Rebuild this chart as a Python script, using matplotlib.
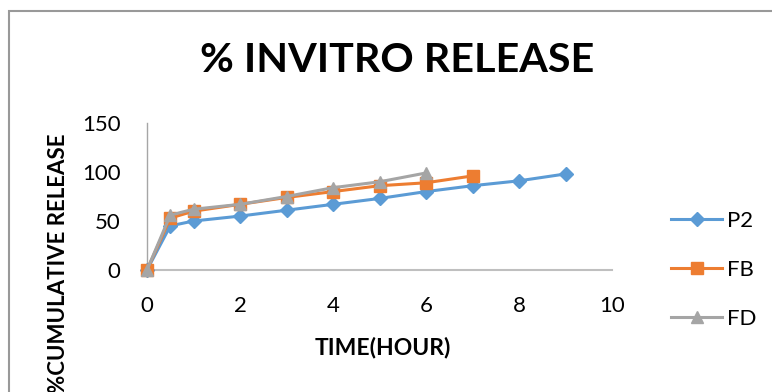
import matplotlib
matplotlib.use("Agg")
import matplotlib.pyplot as plt
from matplotlib.patches import Rectangle

# data
p2_time = [0, 0.5, 1, 2, 3, 4, 5, 6, 7, 8, 9]
p2_release = [0, 45, 50, 55, 61, 67, 73, 80, 86, 91, 98]

fb_time = [0, 0.5, 1, 2, 3, 4, 5, 6, 7]
fb_release = [0, 53, 60, 67, 74, 80, 86, 89, 96]

fd_time = [0, 0.5, 1, 2, 3, 4, 5, 6]
fd_release = [0, 56, 62, 67, 75, 84, 90, 99]

x_ticks = [0, 2, 4, 6, 8, 10]
y_ticks = [0, 50, 100, 150]

plt.rcParams['font.family'] = ['Lato', 'DejaVu Sans']

fig = plt.figure(figsize=(7.72, 3.92), dpi=100)
ax = fig.add_axes([147 / 772, 122 / 392, 465 / 772, 147 / 392])

ax.plot(p2_time, p2_release, color='#5B9BD5', lw=2.2, marker='D', ms=7,
        label='P2', clip_on=False, zorder=3)
ax.plot(fb_time, fb_release, color='#ED7D31', lw=2.2, marker='s', ms=9,
        label='FB', clip_on=False, zorder=4)
ax.plot(fd_time, fd_release, color='#A5A5A5', lw=2.2, marker='^', ms=9,
        label='FD', clip_on=False, zorder=5)

ax.set_xlim(0, 10)
ax.set_ylim(0, 150)
ax.set_xticks(x_ticks)
ax.set_yticks(y_ticks)
ax.tick_params(length=0, labelsize=16)
ax.tick_params(axis='x', pad=19)
ax.tick_params(axis='y', pad=19)
for s in ['top', 'right']:
    ax.spines[s].set_visible(False)
ax.spines['left'].set_color('#A6A6A6')
ax.spines['left'].set_linewidth(1)
ax.spines['bottom'].set_color('#BFBFBF')
ax.spines['bottom'].set_linewidth(1.5)
for sp in ax.spines.values():
    sp.set_clip_on(False)

fig.text(383 / 772, 1 - 348 / 392, 'TIME(HOUR)', ha='center', va='center',
         fontsize=16.5, fontweight='bold')
fig.text(59 / 772, 1 - 263 / 392, '%CUMULATIVE RELEASE', rotation=90,
         ha='center', va='center', fontsize=16, fontweight='bold')
fig.text(397 / 772, 1 - 61 / 392, '% INVITRO RELEASE', ha='center', va='center',
         fontsize=29.7, fontweight='bold')

fig.legend(loc='center left', bbox_to_anchor=(671 / 772, 1 - 270 / 392),
           frameon=False, fontsize=16, handlelength=2.3, labelspacing=1.3,
           handletextpad=0.2, borderpad=0, borderaxespad=0)

# chart border (only top and left edges are inside the picture)
fig.add_artist(Rectangle((8.5 / 772, -0.5), 2, 0.5 + (392 - 10.5) / 392,
                         transform=fig.transFigure, fill=False,
                         edgecolor='#999999', lw=1.5))

fig.savefig('out.png', dpi=100)
